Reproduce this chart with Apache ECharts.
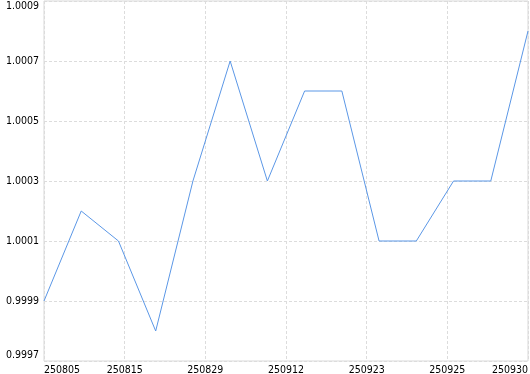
<!DOCTYPE html>
<html><head><meta charset="utf-8">
<script src="https://cdn.jsdelivr.net/npm/echarts@6/dist/echarts.min.js"></script>
<style>html,body{margin:0;padding:0;background:#fff}#c{width:530px;height:374px}</style>
</head><body><div id="c"></div>
<script>
const categories = ['250805','250808','250815','250822','250829','250905','250912','250919','250923','250924','250925','250926','250929','250930'];
const values = [0.9999, 1.0002, 1.0001, 0.9998, 1.0003, 1.0007, 1.0003, 1.0006, 1.0006, 1.0001, 1.0001, 1.0003, 1.0003, 1.0008];
const yMin = 0.9997, yMax = 1.0009, yStep = 0.0002;
const xSplits = 6; // x axis shows 6 equal intervals

const font = 'DejaVu Sans Condensed';
const n = categories.length - 1;
const chart = echarts.init(document.getElementById('c'));
chart.setOption({
  animation: false,
  grid: {left: 44, right: 2, top: 1, bottom: 13, show: true, borderColor: '#d9d9d9', borderWidth: 1, containLabel: false, outerBoundsMode: 'none'},
  xAxis: {
    type: 'value', min: 0, max: n * xSplits, interval: n,
    axisLine: {show: false}, axisTick: {show: false},
    splitLine: {show: true, lineStyle: {type: [3, 2], color: '#dcdcdc'}},
    axisLabel: {
      fontFamily: font, fontSize: 10.5, color: '#000', margin: 4,
      alignMinLabel: 'left', alignMaxLabel: 'right',
      formatter: v => categories[Math.floor(v / xSplits + 1e-9)] || ''
    }
  },
  yAxis: {
    type: 'value', min: yMin, max: yMax, interval: yStep,
    axisLine: {show: false}, axisTick: {show: false},
    splitLine: {show: true, lineStyle: {type: [3, 2], color: '#dcdcdc'}},
    axisLabel: {
      fontFamily: font, fontSize: 10.5, color: '#000', margin: 5,
      verticalAlignMinLabel: 'bottom', verticalAlignMaxLabel: 'top',
      formatter: v => v.toFixed(4)
    }
  },
  series: [{
    type: 'line', data: values.map((v, i) => [i * xSplits, v]),
    showSymbol: false, symbol: 'none',
    lineStyle: {color: '#5b97e6', width: 1}
  }]
});
</script></body></html>
